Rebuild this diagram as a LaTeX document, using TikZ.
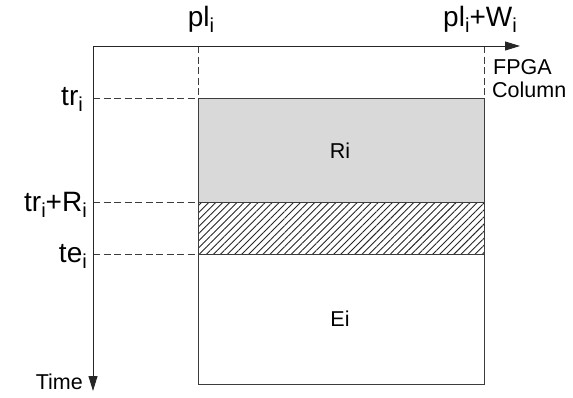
\documentclass[tikz,border=0pt]{standalone}
\usepackage{fontspec}
\setmainfont{Liberation Sans}
\usetikzlibrary{arrows.meta,patterns.meta}
\definecolor{ink}{HTML}{3C3C3C}
\definecolor{slotgray}{HTML}{D9D9D9}
\newcommand{\si}{\raisebox{-0.22em}{\fontsize{0.72em}{1em}\selectfont i}}
\tikzset{
  axis/.style={draw=black!85, line width=1pt, -{Triangle[length=15pt,width=9pt]}},
  guide/.style={draw=ink, line width=1pt, dash pattern=on 7pt off 3.5pt},
  edge/.style={draw=ink, line width=1pt},
  biglbl/.style={font=\fontsize{28}{30}\selectfont, inner sep=0pt},
  smalllbl/.style={font=\fontsize{21.5}{24}\selectfont, inner sep=0pt},
}
\begin{document}
\begin{tikzpicture}[x=1pt,y=-1pt]
\useasboundingbox (0,0) rectangle (573,397);
% key positions
\coordinate (O) at (93,46);
\coordinate (xend) at (520,46);
\coordinate (yend) at (93,391);
\coordinate (pl) at (198,46);
\coordinate (plw) at (484,46);
\coordinate (rtop) at (198,98);
\coordinate (rtopR) at (484,98);
\coordinate (rbot) at (198,202);
\coordinate (rbotR) at (484,202);
\coordinate (ebot) at (198,254);
\coordinate (ebotR) at (484,254);
\coordinate (boxend) at (484,384);
\coordinate (ytr) at (93,98);
\coordinate (ytrR) at (93,202);
\coordinate (yte) at (93,254);

% reconfiguration slot and hatched band
\fill[fill=slotgray] (rtop) rectangle (rbotR);
\fill[pattern={Lines[angle=45,distance=5pt,line width=0.9pt]}, pattern color=black!85] (rbot) rectangle (ebotR);

% column outline
\draw[edge] (rtop) rectangle (boxend);
\draw[edge] (rbot) -- (rbotR);
\draw[edge] (ebot) -- (ebotR);

% guide lines
\draw[guide] (pl) -- (rtop);
\draw[guide] (plw) -- (rtopR);
\draw[guide] (ytr) -- (rtop);
\draw[guide] (ytrR) -- (rbot);
\draw[guide] (yte) -- (ebot);

% axes
\draw[axis] (O) -- (xend);
\draw[axis] (O) -- (yend);

% labels
\node[biglbl, anchor=base] (lpl) at (201,26) {pl\si};
\node[biglbl, anchor=base] (lplw) at (480,26) {pl\si+W\si};
\node[biglbl, anchor=base east] (ltr) at (83,105) {tr\si};
\node[biglbl, anchor=base east] (ltrR) at (87,211) {tr\si+R\si};
\node[biglbl, anchor=base east] (lte) at (87,262) {te\si};
\node[smalllbl, anchor=base west] (lfpga) at (493,74) {FPGA};
\node[smalllbl, anchor=base west] (lcol) at (492,97) {Column};
\node[smalllbl, anchor=base east] (ltime) at (83,389) {Time};
\node[smalllbl] (lri) at (340,151) {Ri};
\node[smalllbl] (lei) at (340,319) {Ei};
\end{tikzpicture}
\end{document}
